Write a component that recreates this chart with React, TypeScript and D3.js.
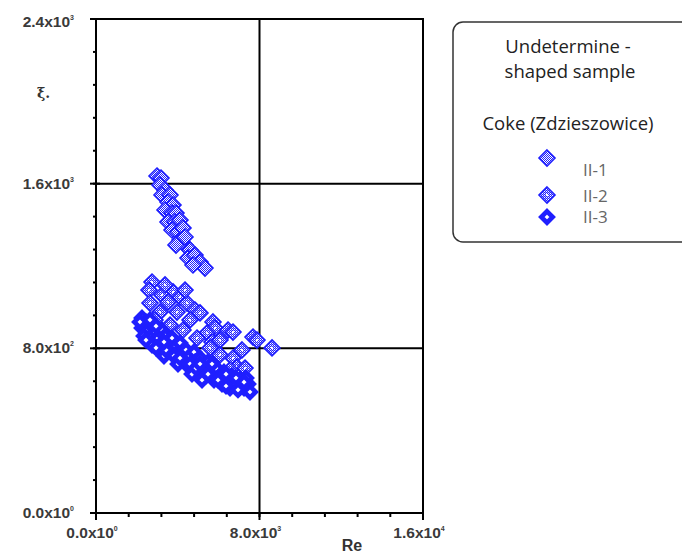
import React from "react";
import * as d3 from "d3";

// II-1 series (Re, xi)
const ii1Re = [2985, 3180, 3132, 3376, 3229, 3621, 3523, 3768, 3376, 3719, 3914, 3523, 3866, 4110, 3719, 4012, 4257, 4110, 4355, 4600, 4502, 4844, 5089, 5333, 4746, 4355, 3914];
const ii1Xi = [1637, 1627, 1594, 1569, 1545, 1545, 1511, 1496, 1472, 1457, 1457, 1414, 1414, 1423, 1375, 1365, 1385, 1326, 1302, 1278, 1239, 1253, 1219, 1190, 1205, 1341, 1302];

// II-2 series
const ii2Re = [2740, 2593, 3768, 3229, 4110, 2642, 3523, 4453, 4844, 3132, 3963, 5089, 4600, 5725, 5823, 6459, 6703, 5431, 4942, 5676, 6067, 5578, 7682, 7878, 7144, 8612, 6703, 6899, 7291, 6557, 6067, 3376, 4355, 2887, 3621, 4257];
const ii2Xi = [1122, 1083, 1074, 1059, 1049, 1020, 1025, 1020, 986, 976, 976, 972, 938, 928, 899, 889, 879, 874, 850, 831, 840, 802, 855, 840, 792, 802, 753, 709, 704, 695, 768, 1108, 1083, 938, 913, 889];

// II-3 series
const ii3Re = [2251, 2447, 2251, 2544, 2349, 2740, 2887, 2642, 3034, 3229, 3376, 3132, 3523, 3719, 3621, 3914, 4110, 3866, 4208, 4404, 4306, 4600, 4795, 4502, 4844, 5089, 4991, 5284, 5480, 5382, 5676, 5872, 5774, 6067, 6263, 6165, 6459, 6655, 6557, 6850, 7046, 7242, 7438, 7535, 7340, 2740, 3327, 4012, 4697, 5187,
  2153, 2642, 2936, 2447, 2936, 3425, 3817, 4110, 4600, 4893, 5480, 5970, 6361, 6948, 3327, 5089, 5676, 6361, 6850, 7242];
const ii3Xi = [947, 928, 899, 889, 860, 908, 879, 850, 850, 889, 860, 816, 831, 850, 792, 811, 826, 768, 782, 792, 743, 763, 782, 714, 734, 753, 695, 714, 734, 666, 685, 704, 646, 666, 685, 627, 646, 666, 607, 627, 646, 607, 627, 588, 656, 816, 763, 724, 675, 646,
  928, 938, 908, 840, 802, 792, 763, 753, 724, 704, 675, 646, 617, 598, 831, 724, 724, 675, 656, 636];

const xMajor = [0, 8000, 16000];
const xMajorMant = ["0.0", "8.0", "1.6"];
const xMajorExp = ["0", "3", "4"];
const yMajor = [0, 800, 1600, 2400];
const yMajorMant = ["0.0", "8.0", "1.6", "2.4"];
const yMajorExp = ["0", "2", "3", "3"];

const legendTitle = ["Undetermine -", "shaped sample"];
const legendSub = "Coke (Zdzieszowice)";
const seriesNames = ["II-1", "II-2", "II-3"];

const BLUE = "#1f1fff";

function diamond(cx: number, cy: number, r: number) {
  return `M${cx},${cy - r}L${cx + r},${cy}L${cx},${cy + r}L${cx - r},${cy}Z`;
}

function Marker({ kind, cx, cy }: { kind: number; cx: number; cy: number }) {
  const r = 8;
  if (kind === 0) {
    return (
      <path d={diamond(cx, cy, r)} fill="url(#dither)" stroke={BLUE} strokeWidth={1.6} />
    );
  }
  if (kind === 1) {
    return (
      <g>
        <path d={diamond(cx, cy, r)} fill="url(#dither2)" stroke={BLUE} strokeWidth={1.6} />
        <rect x={cx - 1} y={cy - 1} width={2} height={2} fill="#fff" />
      </g>
    );
  }
  return (
    <g>
      <path d={diamond(cx, cy, r - 2.3)} fill="#fff" stroke={BLUE} strokeWidth={4.6} />
    </g>
  );
}

export default function App() {
  const x = d3.scaleLinear().domain([0, 16000]).range([96, 423]);
  const y = d3.scaleLinear().domain([0, 2400]).range([513, 19]);
  const xMinor = d3.range(0, 16001, 1600);
  const yMinor = d3.range(0, 2401, 160);
  const series = [
    { re: ii1Re, xi: ii1Xi },
    { re: ii2Re, xi: ii2Xi },
    { re: ii3Re, xi: ii3Xi },
  ];
  const tickFont = { fontFamily: "'Liberation Sans', Arial, sans-serif", fontWeight: 700, fontSize: 15.5, fill: "#3a3a3a" } as const;
  const legFont = { fontFamily: "'Open Sans', sans-serif", fontSize: 18.5, fill: "#222" } as const;

  return (
    <svg width={682} height={556} style={{ position: "absolute", left: 0, top: 0, background: "#fff" }}>
      <defs>
        <pattern id="dither" width={2} height={2} patternUnits="userSpaceOnUse">
          <rect width={2} height={2} fill="#fff" />
          <rect x={0} y={0} width={1} height={1} fill={BLUE} />
          <rect x={1} y={1} width={1} height={1} fill={BLUE} />
        </pattern>
        <pattern id="dither2" width={2} height={2} patternUnits="userSpaceOnUse">
          <rect width={2} height={2} fill="#fff" />
          <rect x={0} y={0} width={1} height={1} fill={BLUE} />
          <rect x={1} y={1} width={1} height={1} fill={BLUE} />
          <rect x={1} y={0} width={1} height={1} fill={BLUE} opacity={0.4} />
        </pattern>
      </defs>
      <rect width={682} height={556} fill="#fff" />

      {/* grid lines */}
      <line x1={x(8000)} x2={x(8000)} y1={y(0)} y2={y(2400)} stroke="#000" strokeWidth={2} />
      {[800, 1600].map((v) => (
        <line key={v} x1={x(0)} x2={x(16000)} y1={y(v)} y2={y(v)} stroke="#000" strokeWidth={2} />
      ))}

      {/* frame */}
      <rect x={x(0)} y={y(2400)} width={x(16000) - x(0)} height={y(0) - y(2400)} fill="none" stroke="#000" strokeWidth={2} />

      {/* minor ticks */}
      {xMinor.map((v) => (
        <line key={"xm" + v} x1={x(v)} x2={x(v)} y1={y(0)} y2={y(0) + 4} stroke="#000" strokeWidth={2} />
      ))}
      {yMinor.map((v) => (
        <line key={"ym" + v} x1={x(0) - 3} x2={x(0)} y1={y(v)} y2={y(v)} stroke="#000" strokeWidth={2} />
      ))}
      {/* major ticks */}
      {xMajor.map((v) => (
        <line key={"xM" + v} x1={x(v)} x2={x(v)} y1={y(0)} y2={y(0) + 7} stroke="#000" strokeWidth={2} />
      ))}
      {yMajor.map((v) => (
        <line key={"yM" + v} x1={x(0) - 6} x2={x(0) + 4} y1={y(v)} y2={y(v)} stroke="#000" strokeWidth={2} />
      ))}

      {/* tick labels */}
      {xMajor.map((v, i) => (
        <text key={"xl" + v} x={x(v) - 4} y={538} textAnchor="middle" {...tickFont}>
          {xMajorMant[i]}x10
          <tspan fontSize={7} dy={-7}>{xMajorExp[i]}</tspan>
        </text>
      ))}
      {yMajor.map((v, i) => (
        <text key={"yl" + v} x={74} y={y(v) + 5 + (v === 2400 ? 3 : 0)} textAnchor="end" {...tickFont}>
          {yMajorMant[i]}x10
          <tspan fontSize={7} dy={-7}>{yMajorExp[i]}</tspan>
        </text>
      ))}

      {/* axis titles */}
      <text x={352} y={551} textAnchor="middle" fontFamily="'Liberation Sans', Arial, sans-serif" fontWeight={700} fontSize={16} fill="#333">
        Re
      </text>
      <text x={37} y={98} fontFamily="'DejaVu Serif', serif" fontWeight={700} fontSize={14} fill="#333">
        ξ.
      </text>

      {/* data */}
      {series.map((s, si) => (
        <g key={si}>
          {s.re.map((r, i) => (
            <Marker key={i} kind={si} cx={x(r)} cy={y(s.xi[i])} />
          ))}
        </g>
      ))}

      {/* legend */}
      <rect x={453} y={22} width={260} height={220} rx={10} ry={10} fill="#fff" stroke="#333" strokeWidth={1.5} />
      <text x={568} y={53} textAnchor="middle" {...legFont}>{legendTitle[0]}</text>
      <text x={570} y={78} textAnchor="middle" {...legFont}>{legendTitle[1]}</text>
      <text x={568} y={130} textAnchor="middle" {...legFont}>{legendSub}</text>
      {seriesNames.map((n, i) => {
        const my = [158, 195, 217][i];
        const ty = [176, 202, 223][i];
        return (
          <g key={n}>
            <Marker kind={i} cx={547} cy={my} />
            <text x={583} y={ty} fontFamily="'Open Sans', sans-serif" fontSize={17} fill="#666">
              {n}
            </text>
          </g>
        );
      })}
    </svg>
  );
}
